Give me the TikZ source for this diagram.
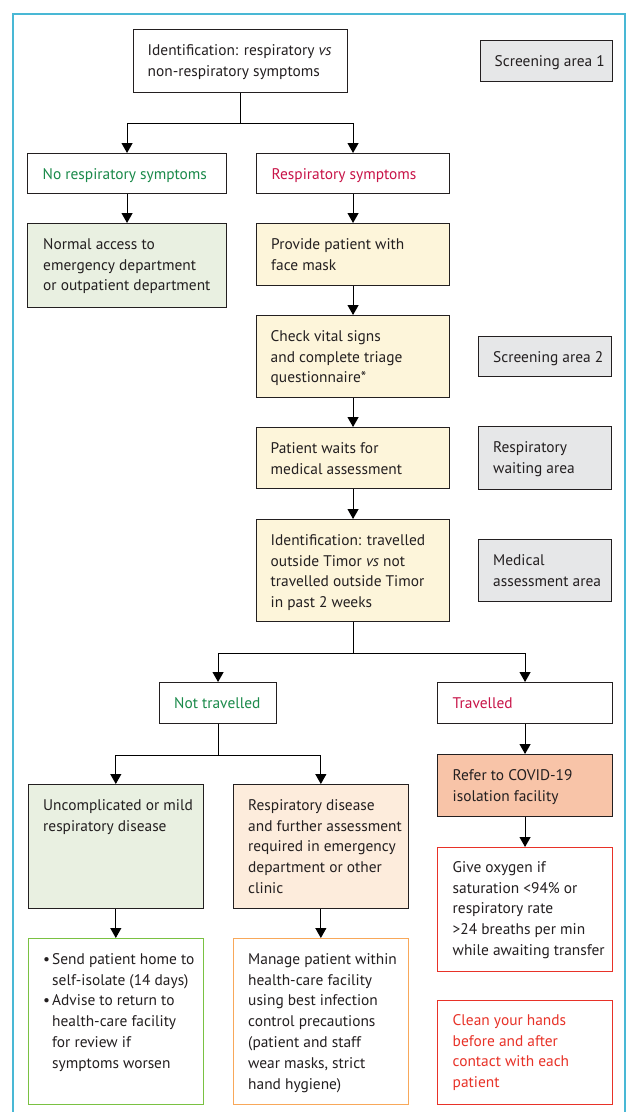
\documentclass[tikz,border=0pt]{standalone}
\usepackage{fontspec}
\setmainfont{PT Sans}
\usetikzlibrary{arrows.meta}
\definecolor{framecol}{RGB}{73,184,213}
\definecolor{boxline}{RGB}{35,31,32}
\definecolor{grayfill}{RGB}{230,231,232}
\definecolor{greenfill}{RGB}{233,240,225}
\definecolor{yellowfill}{RGB}{253,245,218}
\definecolor{peachfill}{RGB}{253,236,220}
\definecolor{salmonfill}{RGB}{248,196,168}
\definecolor{txtgreen}{RGB}{26,138,74}
\definecolor{txtred}{RGB}{200,20,72}
\definecolor{greenline}{RGB}{122,193,66}
\definecolor{orangeline}{RGB}{248,168,90}
\definecolor{redline}{RGB}{232,50,40}
\begin{document}
\begin{tikzpicture}[x=1pt,y=-1pt,
  bx/.style={draw=boxline, line width=1.1pt, inner sep=0pt, anchor=north west},
  txt/.style={anchor=north west, inner sep=0pt, align=left, text=boxline, font=\fontsize{15.4}{20.8}\selectfont},
  arr/.style={draw=black, line width=1.1pt, -{Triangle[width=11pt,length=10pt]}},
  wh/.style={fill=white}, gr/.style={fill=grayfill}, gn/.style={fill=greenfill},
  yl/.style={fill=yellowfill}, pc/.style={fill=peachfill}, sl/.style={fill=salmonfill},
]
\newcommand\st{\rule{0pt}{12pt}}
\useasboundingbox (0,0) rectangle (628,1112);
\fill[white] (0,0) rectangle (628,1112);
\draw[framecol, line width=1.5pt] (13,1120) -- (13,14) -- (625,14) -- (625,1120);

% boxes
\node[bx,wh,minimum width=214.5pt,minimum height=63pt] (top) at (132.5,29) {};
\node[txt] (topt) at (147.5,43) {\st Identification: respiratory \textit{vs}\\non-respiratory symptoms};

\node[bx,gr,minimum width=132.5pt,minimum height=41pt] (sa1) at (479.5,40) {};
\node[txt] (sa1t) at (494.5,54) {\st Screening area 1};

\node[bx,wh,minimum width=199pt,minimum height=40pt] (nr) at (27,153) {};
\node[txt,text=txtgreen] (nrt) at (42.5,167) {\st No respiratory symptoms};

\node[bx,wh,minimum width=193pt,minimum height=40pt] (rs) at (256,153) {};
\node[txt,text=txtred] (rst) at (271.5,167) {\st Respiratory symptoms};

\node[bx,gn,minimum width=199pt,minimum height=84pt] (na) at (27,223) {};
\node[txt] (nat) at (43,237) {\st Normal access to\\emergency department\\or outpatient department};

\node[bx,yl,minimum width=193pt,minimum height=62pt] (pm) at (256,223) {};
\node[txt] (pmt) at (271,237) {\st Provide patient with\\face mask};

\node[bx,yl,minimum width=193pt,minimum height=82pt] (cv) at (256,315) {};
\node[txt] (cvt) at (270.5,329) {\st Check vital signs\\and complete triage\\questionnaire*};

\node[bx,gr,minimum width=133pt,minimum height=40pt] (sa2) at (478,336) {};
\node[txt] (sa2t) at (493,350) {\st Screening area 2};

\node[bx,yl,minimum width=193pt,minimum height=61pt] (pw) at (256,427) {};
\node[txt] (pwt) at (270.5,441) {\st Patient waits for\\medical assessment};

\node[bx,gr,minimum width=133pt,minimum height=63pt] (rw) at (478,426) {};
\node[txt] (rwt) at (493,440) {\st Respiratory\\waiting area};

\node[bx,yl,minimum width=193pt,minimum height=102pt] (it) at (256,519) {};
\node[txt] (itt) at (270.5,533) {\st Identification: travelled\\outside Timor \textit{vs} not\\travelled outside Timor\\in past 2 weeks};

\node[bx,gr,minimum width=133pt,minimum height=62pt] (ma) at (478,539) {};
\node[txt] (mat) at (493,553) {\st Medical\\assessment area};

\node[bx,wh,minimum width=117pt,minimum height=41pt] (nt) at (159,682) {};
\node[txt,text=txtgreen] (ntt) at (174,696) {\st Not travelled};

\node[bx,wh,minimum width=175pt,minimum height=41pt] (tr) at (437,682) {};
\node[txt,text=txtred] (trt) at (452.5,696) {\st Travelled};

\node[bx,gn,minimum width=175.5pt,minimum height=124pt] (um) at (27.5,784) {};
\node[txt] (umt) at (43,798) {\st Uncomplicated or mild\\respiratory disease};

\node[bx,pc,minimum width=174.6pt,minimum height=124pt] (rd) at (233,784) {};
\node[txt] (rdt) at (248,798) {\st Respiratory disease\\and further assessment\\required in emergency\\department or other\\clinic};

\node[bx,sl,minimum width=175pt,minimum height=62pt] (rf) at (437,754) {};
\node[txt] (rft) at (452.5,768) {\st Refer to COVID-19\\isolation facility};

\node[bx,wh,draw=redline,minimum width=175pt,minimum height=124pt] (go) at (437,847) {};
\node[txt] (got) at (452.5,860) {\st Give oxygen if\\saturation <94\% or\\respiratory rate\\>24 breaths per min\\while awaiting transfer};

\node[bx,wh,draw=greenline,minimum width=175.5pt,minimum height=166pt] (sp) at (27.5,938) {};
\node[txt] (spt) at (43,952) {\st\makebox[9pt][l]{•}Send patient home to\\\hspace*{9pt}self-isolate (14 days)\\\makebox[9pt][l]{•}Advise to return to\\\hspace*{9pt}health-care facility\\\hspace*{9pt}for review if\\\hspace*{9pt}symptoms worsen};

\node[bx,wh,draw=orangeline,minimum width=174.6pt,minimum height=166pt] (mp) at (233,938) {};
\node[txt] (mpt) at (248,952) {\st Manage patient within\\health-care facility\\using best infection\\control precautions\\(patient and staff\\wear masks, strict\\hand hygiene)};

\node[bx,wh,draw=redline,minimum width=175pt,minimum height=104pt] (ch) at (437,1000) {};
\node[txt,text=redline] (cht) at (452.5,1013) {\st Clean your hands\\before and after\\contact with each\\patient};

% connectors
\draw[arr] (top.south) -- ++(0,30) -| (nr.north);
\draw[arr] (top.south) -- ++(0,30) -| (rs.north);
\draw[arr] (nr.south) -- (na.north);
\draw[arr] (rs.south) -- (pm.north);
\draw[arr] (pm.south) -- (cv.north);
\draw[arr] (cv.south) -- (pw.north);
\draw[arr] (pw.south) -- (it.north);
\draw[arr] (it.south) -- ++(0,31) -| (nt.north);
\draw[arr] (it.south) -- ++(0,31) -| (tr.north);
\draw[arr] (nt.south) -- ++(0,31) -| (um.north);
\draw[arr] (nt.south) -- ++(0,31) -| (rd.north);
\draw[arr] (tr.south) -- (rf.north);
\draw[arr] (rf.south) -- (go.north);
\draw[arr] (um.south) -- (sp.north);
\draw[arr] (rd.south) -- (mp.north);
\end{tikzpicture}
\end{document}
